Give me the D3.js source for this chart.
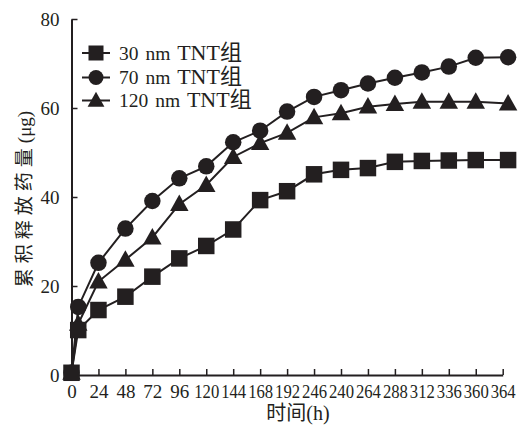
<!DOCTYPE html>
<html><head><meta charset="utf-8">
<script src="https://cdn.jsdelivr.net/npm/d3@7"></script>
<style>
body{margin:0;background:#fff;}
text{font-family:"Liberation Serif","Noto Sans CJK SC",serif;fill:#231f20;}
</style></head>
<body><svg id="c" width="526" height="427"></svg>
<script>
// category tick labels (hours) along the x axis
const tickLabels = ["0","24","48","72","96","120","144","168","192","246","240","264","288","312","336","360","364"];
// x positions of measured points, in tick-slot units
const xPos = [0, 0.25, 1, 2, 3, 4, 5, 6, 7, 8, 9, 10, 11, 12, 13, 14, 15, 16.2];
const s30  = [0.5, 10.1, 14.6, 17.6, 22.1, 26.2, 29.0, 32.7, 39.3, 41.3, 45.1, 46.1, 46.5, 47.9, 48.1, 48.2, 48.3, 48.3];
const s70  = [0.5, 15.3, 25.2, 32.9, 39.1, 44.2, 46.9, 52.3, 54.9, 59.2, 62.5, 64.0, 65.5, 66.8, 68.0, 69.3, 71.3, 71.4];
const s120 = [0.5, 11.5, 21.0, 25.9, 30.9, 38.4, 42.7, 49.0, 52.1, 54.4, 57.9, 58.8, 60.3, 60.9, 61.4, 61.4, 61.4, 61.0];
const seriesNames = ["30 nm ","70 nm ","120 nm "];
const seriesSuffix = "TNT组";
const seriesShapes = ["square","circle","triangle"];
const yTicks = [0,20,40,60,80];

const svg = d3.select("#c");
const x = d3.scaleLinear().domain([0,16]).range([71.5,502.7]);
const y = d3.scaleLinear().domain([0,80]).range([375,19]);
const ink = "#231f20";

// axes
const xAxis = d3.axisBottom(x).tickValues(d3.range(tickLabels.length))
  .tickFormat(i => tickLabels[i]).tickSizeInner(-6).tickSizeOuter(0).tickPadding(10);
const gx = svg.append("g").attr("transform","translate(0,375)").call(xAxis);
gx.selectAll("text").style("font-size","19px")
  .each(function(i){ if(tickLabels[i].length===3) d3.select(this).attr("textLength",25).attr("lengthAdjust","spacingAndGlyphs"); });
gx.selectAll("line").attr("stroke",ink).attr("stroke-width",1.5);
gx.select(".domain").attr("stroke",ink).attr("stroke-width",2);
gx.selectAll(".tick").filter(d => d===0).select("line").remove();

const yAxis = d3.axisLeft(y).tickValues(yTicks).tickSizeInner(-6).tickSizeOuter(0).tickPadding(12);
const gy = svg.append("g").attr("transform","translate(71.5,0)").call(yAxis);
gy.selectAll("text").style("font-size","19px");
gy.selectAll("line").attr("stroke",ink).attr("stroke-width",1.5);
gy.select(".domain").attr("stroke",ink).attr("stroke-width",2);
gy.selectAll(".tick").filter(d => d===0).select("line").remove();

// axis titles
svg.append("text").attr("x",298).attr("y",420).attr("text-anchor","middle")
  .style("font-size","20px").text("时间(h)");
const yt = svg.append("text").attr("transform","translate(31,199) rotate(-90)").attr("text-anchor","middle")
  .style("font-size","19px");
yt.append("tspan").style("letter-spacing","5px").text("累积释放药量");
yt.append("tspan").text("(μg)");

// markers
function marker(g, shape, cx, cy, s){
  if(shape==="square"){
    g.append("rect").attr("x",cx-s/2).attr("y",cy-s/2).attr("width",s).attr("height",s).attr("fill",ink);
  } else if(shape==="circle"){
    g.append("circle").attr("cx",cx).attr("cy",cy).attr("r",s/2).attr("fill",ink);
  } else {
    const w = s*1.12, h = s;
    g.append("path").attr("d",`M${cx},${cy-h*0.58}L${cx+w/2},${cy+h*0.42}L${cx-w/2},${cy+h*0.42}Z`).attr("fill",ink);
  }
}

const allSeries = [s30, s70, s120];
const line = d3.line().x((d,i)=>x(xPos[i])).y(d=>y(d));
// draw in order: triangles, circles, squares on top
[2,1,0].forEach(k=>{
  const g = svg.append("g");
  g.append("path").datum(allSeries[k]).attr("d",line).attr("fill","none").attr("stroke",ink).attr("stroke-width",2);
  allSeries[k].forEach((v,i)=>marker(g, seriesShapes[k], x(xPos[i]), y(v), 16.5));
});

// legend
const legRows = [53, 77.5, 100.5];
seriesNames.forEach((name,k)=>{
  const g = svg.append("g");
  g.append("line").attr("x1",82).attr("x2",110).attr("y1",legRows[k]).attr("y2",legRows[k]).attr("stroke",ink).attr("stroke-width",2);
  marker(g, seriesShapes[k], 96, legRows[k], 15);
  const t = g.append("text").attr("x",119).attr("y",legRows[k]+6.5).style("font-size","19.5px").style("word-spacing","2px");
  t.append("tspan").text(name);
  t.append("tspan").style("font-size","22px").text(seriesSuffix);
});
</script></body></html>
